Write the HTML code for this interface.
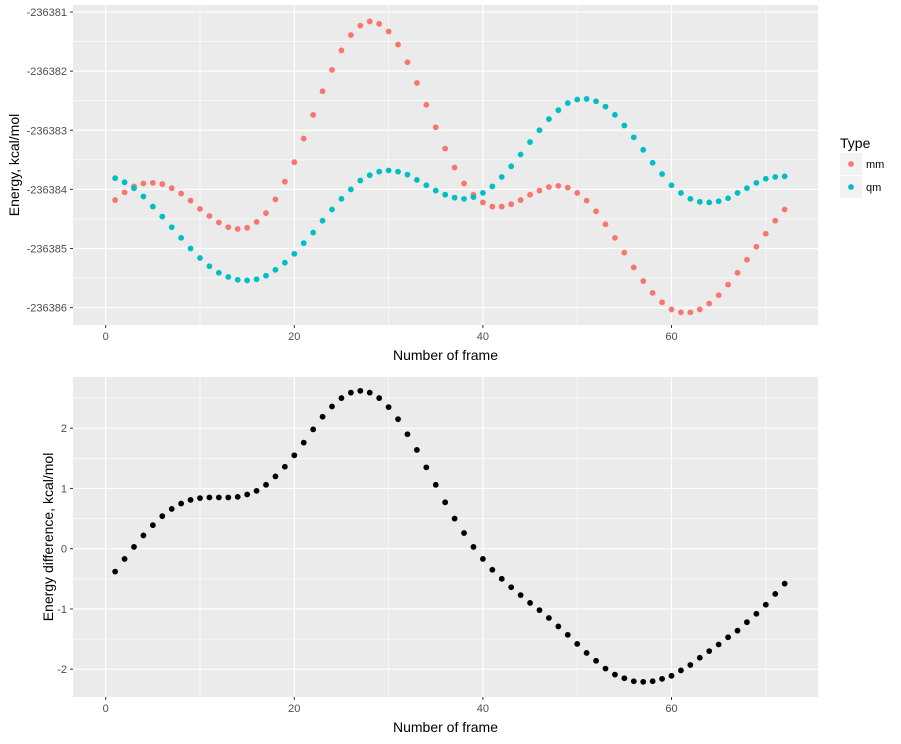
<!DOCTYPE html>
<html><head><meta charset="utf-8"><style>
body{margin:0;background:#fff;font-family:"Liberation Sans",sans-serif}
svg text{font-family:"Liberation Sans",sans-serif}
</style></head><body>
<svg id="c" width="901" height="739" xmlns="http://www.w3.org/2000/svg"></svg>
<script>
const frames = Array.from({length:72},(_,i)=>i+1);
const mmOffset = [3.18,3.05,2.95,2.90,2.89,2.91,2.98,3.07,3.19,3.33,3.45,3.56,3.64,3.67,3.65,3.55,3.40,3.17,2.87,2.54,2.14,1.74,1.34,0.98,0.65,0.39,0.23,0.16,0.20,0.33,0.55,0.85,1.20,1.57,1.95,2.31,2.63,2.90,3.09,3.22,3.29,3.29,3.25,3.18,3.09,3.02,2.96,2.94,2.97,3.06,3.19,3.37,3.59,3.82,4.07,4.32,4.55,4.75,4.91,5.03,5.08,5.08,5.03,4.93,4.79,4.61,4.41,4.19,3.97,3.75,3.53,3.34];
const qmOffset = [2.81,2.88,2.98,3.12,3.29,3.46,3.64,3.82,4.00,4.16,4.30,4.41,4.48,4.53,4.54,4.52,4.46,4.36,4.24,4.09,3.91,3.73,3.53,3.34,3.16,3.00,2.85,2.76,2.70,2.68,2.70,2.75,2.84,2.93,3.02,3.09,3.14,3.16,3.13,3.06,2.95,2.79,2.61,2.41,2.20,2.00,1.81,1.66,1.54,1.48,1.47,1.51,1.60,1.74,1.92,2.12,2.33,2.55,2.74,2.93,3.06,3.16,3.21,3.22,3.20,3.15,3.06,2.98,2.89,2.82,2.79,2.78];
const diffValues = [-0.38,-0.17,0.03,0.22,0.39,0.54,0.66,0.75,0.81,0.84,0.85,0.85,0.85,0.86,0.90,0.96,1.06,1.20,1.36,1.55,1.76,1.98,2.19,2.36,2.50,2.59,2.62,2.59,2.50,2.35,2.15,1.90,1.64,1.35,1.06,0.77,0.50,0.26,0.03,-0.17,-0.35,-0.50,-0.64,-0.77,-0.90,-1.02,-1.15,-1.29,-1.43,-1.58,-1.73,-1.86,-1.99,-2.09,-2.15,-2.20,-2.21,-2.20,-2.16,-2.11,-2.02,-1.93,-1.81,-1.70,-1.59,-1.47,-1.36,-1.22,-1.08,-0.93,-0.75,-0.58];
const BASE = -236381;
const mmValues = mmOffset.map(d=>BASE-d);
const qmValues = qmOffset.map(d=>BASE-d);
const xTicks = [0,20,40,60];
const topTicks = [-236381,-236382,-236383,-236384,-236385,-236386];
const botTicks = [2,1,0,-1,-2];

const svg=document.getElementById('c');
const NS='http://www.w3.org/2000/svg';
function el(t,a,p){const e=document.createElementNS(NS,t);for(const k in a)e.setAttribute(k,a[k]);(p||svg).appendChild(e);return e;}
const xs=v=>105.7+v*9.43;
const yTop=v=>12+(-236381-v)*59.13;
const yBot=v=>548.7-v*60.25;

function panel(name,top,bottom,ys,ticks,minor,values,colors,ytitle,ytx){
  const g=el('g',{});
  
  
  el('rect',{x:73,y:top,width:745,height:bottom-top,fill:'#EBEBEB'},g);
  [10,30,50,70].forEach(v=>el('line',{x1:xs(v),x2:xs(v),y1:top,y2:bottom,stroke:'#fff','stroke-width':0.6},g));
  minor.forEach(v=>el('line',{x1:73,x2:818,y1:ys(v),y2:ys(v),stroke:'#fff','stroke-width':0.6},g));
  xTicks.forEach(v=>{
    el('line',{x1:xs(v),x2:xs(v),y1:top,y2:bottom,stroke:'#fff','stroke-width':1.2},g);
    el('line',{x1:xs(v),x2:xs(v),y1:bottom,y2:bottom+3,stroke:'#333','stroke-width':1},g);
    const t=el('text',{x:xs(v),y:bottom+15,'text-anchor':'middle','font-size':11,fill:'#4D4D4D'},g);t.textContent=v;
  });
  ticks.forEach(v=>{
    el('line',{x1:73,x2:818,y1:ys(v),y2:ys(v),stroke:'#fff','stroke-width':1.2},g);
    el('line',{x1:70,x2:73,y1:ys(v),y2:ys(v),stroke:'#333','stroke-width':1},g);
    const t=el('text',{x:67,y:ys(v)+4,'text-anchor':'end','font-size':11,fill:'#4D4D4D'},g);t.textContent=v;
  });
  values.forEach((vals,si)=>{
    vals.forEach((v,i)=>{
      const c=el('circle',{cx:xs(frames[i]),cy:ys(v),r:2.9,fill:colors[si]},g);
      
      
    });
  });
  const xt=el('text',{x:445.5,y:bottom+35,'text-anchor':'middle','font-size':14,fill:'#000'},g);
  xt.textContent='Number of frame';
  const yt=el('text',{x:0,y:0,'text-anchor':'middle','font-size':14,fill:'#000',transform:`translate(${ytx},${(top+bottom)/2}) rotate(-90)`},g);
  yt.textContent=ytitle;
}
panel('energy-panel',5,325,yTop,topTicks,[-236381.5,-236382.5,-236383.5,-236384.5,-236385.5],[mmValues,qmValues],['#F8766D','#00BFC4'],'Energy, kcal/mol',19);
panel('difference-panel',377,697,yBot,botTicks,[2.5,1.5,0.5,-0.5,-1.5],[diffValues],['#000'],'Energy difference, kcal/mol',53);

const lg=el('g',{});


const lt=el('text',{x:840,y:148,'font-size':14,fill:'#000'},lg);lt.textContent='Type';
[['mm','#F8766D',153],['qm','#00BFC4',176]].forEach(([n,c,y])=>{
  el('rect',{x:840,y:y,width:22,height:22,fill:'#F2F2F2'},lg);
  el('circle',{cx:851,cy:y+11,r:2.9,fill:c},lg);
  const t=el('text',{x:866,y:y+15,'font-size':11,fill:'#000'},lg);t.textContent=n;
});
</script>
</body></html>
